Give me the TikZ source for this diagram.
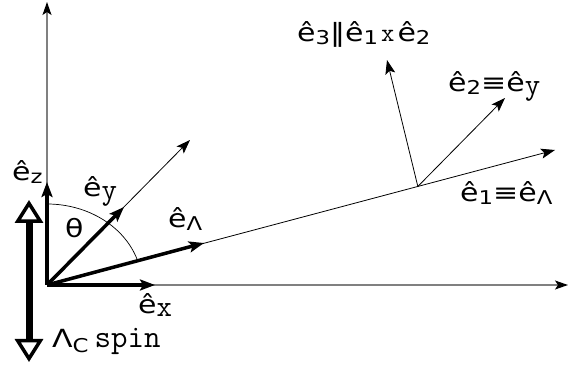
\documentclass[tikz,border=0pt]{standalone}
\usepackage{fontspec}
\setmainfont[FakeStretch=1.2]{DejaVu Sans}
\usetikzlibrary{arrows.meta,calc}

\newcommand{\subsz}{\fontsize{19}{19}\selectfont}
\newcommand{\uv}[1]{ê\raisebox{-0.2ex}{\subsz #1}}
\newcommand{\mtt}[2][30]{{\ttfamily\fontsize{#1}{#1}\selectfont #2}}

\begin{document}
\begin{tikzpicture}[
    x=1pt,y=1pt,
    font=\fontsize{25}{27}\selectfont,
    axis/.style={draw=gray,line width=1.3pt,-{Stealth[black,length=13pt,width=9pt,inset=3pt]}},
    ray/.style={line width=0.8pt,-{Stealth[length=14pt,width=10pt,inset=3pt]}},
    vec/.style={line width=3.5pt,-{Stealth[length=15pt,width=11pt,inset=3pt]}},
    spinarr/.style={line width=7pt,
      {Triangle[open,length=23pt,width=28pt,line width=3.5pt]}-{Triangle[open,length=23pt,width=28pt,line width=3.5pt]}},
    lbl/.style={inner sep=0pt,anchor=base west},
]
\useasboundingbox (0,0) rectangle (570,372);

% ---- frame ----
\coordinate (O)    at (47,87);
\coordinate (ztop) at (47,370);
\coordinate (xend) at (568,87);
\draw[axis] (O) -- (ztop);
\draw[axis] (O) -- (xend);

% ---- unit vectors at the origin ----
\coordinate (ez)   at (47,190);
\coordinate (ex)   at (155,87);
\coordinate (ey)   at (124,165);
\coordinate (yend) at (190,232);
\coordinate (eL)   at (204,129);
\coordinate (lend) at (555,222);
\draw[ray] (O) -- (yend);
\draw[ray] (O) -- (lend);
\draw[vec] (O) -- (ez);
\draw[vec] (O) -- (ex);
\draw[vec] (O) -- (ey);
\draw[vec] (O) -- (eL);

% ---- angle ----
\draw[line width=0.7pt] (47,168) arc[start angle=90,end angle=18,x radius=95,y radius=81];
\node[lbl] (theta) at (65,134) {θ};

% ---- helicity frame on the Lambda line ----
\coordinate (P)  at ($(O)!0.73!(lend)$);
\coordinate (e3) at (387,312);
\coordinate (e2) at (505,274);
\draw[ray] (P) -- (e3);
\draw[ray] (P) -- (e2);

% ---- spin ----
\coordinate (sbot) at (29,10);
\coordinate (stop) at (29,172);
\draw[spinarr] (sbot) -- (stop);

% ---- labels ----
\node[lbl] (lz)  at (12,191)  {\uv{z}};
\node[lbl] (ly)  at (83,175)  {\uv{\mtt{y}}};
\node[lbl] (lL)  at (168,144) {\uv{Λ}};
\node[lbl] (lx)  at (138,58)  {\uv{\mtt{x}}};
\node[lbl] (ls)  at (52,24)   {Λ\raisebox{-0.3ex}{\subsz C}\hspace{6pt}\mtt[32]{spin}};
\node[lbl] (l3)  at (297,330) {\uv{3}‖\uv{1}\hspace{3pt}\mtt[26]{x}\hspace{3pt}\uv{2}};
\node[lbl] (l2)  at (448,280) {\uv{2}≡\uv{\mtt{y}}};
\node[lbl] (l1)  at (460,170) {\uv{1}≡\uv{Λ}};
\end{tikzpicture}
\end{document}
